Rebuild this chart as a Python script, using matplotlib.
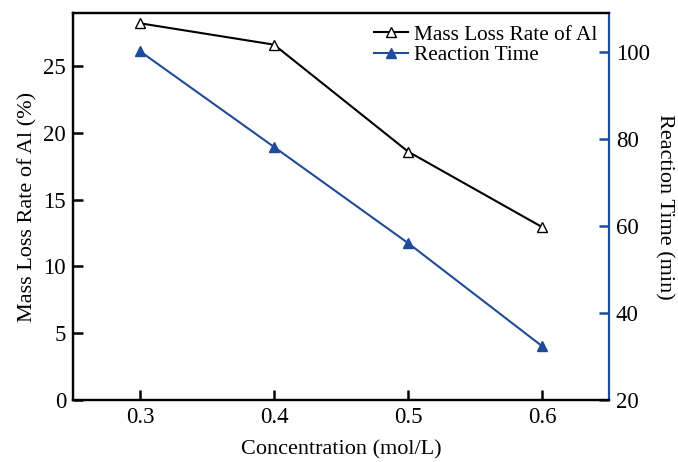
import matplotlib
matplotlib.use("Agg")
import matplotlib.pyplot as plt

conc = [0.3, 0.4, 0.5, 0.6]
mass_loss = [28.2, 26.6, 18.6, 12.95]
reaction_time = [100.2, 78.2, 56.1, 32.4]
xticks = [0.3, 0.4, 0.5, 0.6]
left_ticks = [0, 5, 10, 15, 20, 25]
right_ticks = [20, 40, 60, 80, 100]

plt.rcParams['font.family'] = ['Liberation Serif', 'DejaVu Serif']
blue = '#1f4b99'

fig = plt.figure(figsize=(6.78, 4.62), dpi=100)
ax = fig.add_axes([73/678, 1 - 400/462, (609-73)/678, (400-13)/462])
ax2 = ax.twinx()

l1, = ax.plot(conc, mass_loss, color='black', marker='^', markerfacecolor='white',
              markeredgecolor='black', markersize=7.5, lw=1.5, label='Mass Loss Rate of Al')
l2, = ax2.plot(conc, reaction_time, color=blue, marker='^', markerfacecolor=blue,
               markeredgecolor=blue, markersize=7.5, lw=1.5, label='Reaction Time')

ax.set_xlim(0.25, 0.65)
ax.set_ylim(0, 28.97)
ax2.set_ylim(20, 109)
ax.set_xticks(xticks)
ax.set_xticklabels([f'{v:.1f}' for v in xticks])
ax.set_yticks(left_ticks)
ax2.set_yticks(right_ticks)

ax.tick_params(axis='both', direction='in', labelsize=16.5, width=1.8, length=7, pad=5)
ax.tick_params(axis='x', top=False)
ax2.tick_params(axis='y', direction='in', labelsize=16.5, width=1.8, length=7, color=blue, pad=5)

for a in (ax, ax2):
    for s in ['left', 'bottom', 'top']:
        a.spines[s].set_linewidth(1.6)
ax2.spines['right'].set_color(blue)
ax2.spines['right'].set_linewidth(1.6)
ax.spines['right'].set_visible(False)

ax.set_xlabel('Concentration (mol/L)', fontsize=16, labelpad=9)
ax.set_ylabel('Mass Loss Rate of Al (%)', fontsize=16, labelpad=4)
ax2.set_ylabel('Reaction Time (min)', fontsize=16, rotation=270, labelpad=17)

ax2.legend(handles=[l1, l2], loc='upper right', frameon=False, fontsize=15.3,
           handlelength=1.6, handletextpad=0.3, borderaxespad=0.15, labelspacing=0.05)

fig.savefig('out.png', dpi=100)
